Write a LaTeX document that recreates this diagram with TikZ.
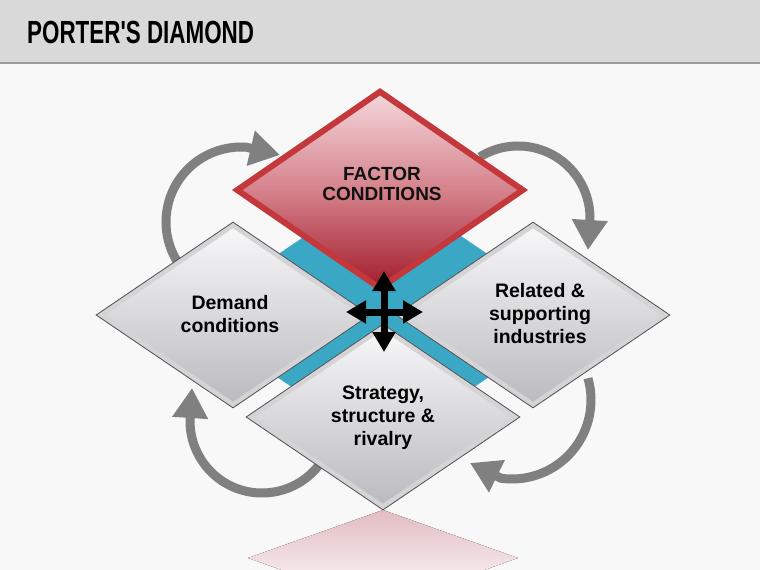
\documentclass[tikz,border=0pt]{standalone}
\usepackage{fontspec}
\setmainfont{Liberation Sans}
\usepackage{graphicx}
\usetikzlibrary{shapes.geometric,arrows.meta,calc}
\definecolor{bg}{HTML}{F8F8F8}
\definecolor{titlebar}{HTML}{D9D9D9}
\definecolor{titleline}{HTML}{9C9C9C}
\definecolor{bandblue}{HTML}{3AA8C5}
\definecolor{redborder}{HTML}{C4373B}
\definecolor{redtop}{HTML}{F4D8DC}
\definecolor{redmid}{HTML}{D5828C}
\definecolor{redbot}{HTML}{A21C2C}
\definecolor{graytop}{HTML}{F9F9FA}
\definecolor{graybot}{HTML}{B9B9BE}
\definecolor{grayband}{HTML}{D4D4D6}
\definecolor{grayline}{HTML}{505050}
\definecolor{cycgray}{HTML}{808080}
\definecolor{refl}{HTML}{E2BCC0}
\definecolor{txt}{HTML}{111111}
\begin{document}
\begin{tikzpicture}[x=1pt,y=-1pt,
  reddia/.style={diamond, aspect=1.45, inner sep=0, minimum width=288, minimum height=199,
    draw=redborder, line width=6, top color=redtop, bottom color=redbot, middle color=redmid},
  graydia/.style={diamond, aspect=1.47, inner sep=0, minimum width=274, minimum height=186,
    draw=grayline, line width=0.8, top color=graytop, bottom color=graybot,
    path picture={\draw[grayband, line width=10] (path picture bounding box.north) -- (path picture bounding box.east) -- (path picture bounding box.south) -- (path picture bounding box.west) -- cycle;}},
  banddia/.style={diamond, inner sep=0, minimum width=392, minimum height=266, fill=bandblue},
  cycarrow/.style={draw=cycgray, line width=9, -{Triangle[width=34pt,length=30pt]}},
  xarrow/.style={draw=black, line width=7, {Triangle[width=22pt,length=20pt]}-{Triangle[width=22pt,length=20pt]}},
  graytext/.style={align=center, text=black, inner sep=0, font=\bfseries\fontsize{19.5}{23}\selectfont},
  redtext/.style={align=center, text=txt, inner sep=0, font=\bfseries\fontsize{19}{20.5}\selectfont}
]
\useasboundingbox (0,0) rectangle (760,570);
\begin{scope}
\clip (0,0) rectangle (760,570);
% background
\fill[bg] (0,0) rectangle (760,570);
\fill[titlebar] (0,0) rectangle (760,62);
\draw[titleline, line width=2] (0,63) -- (760,63);
\node[anchor=base west, inner sep=0, font=\bfseries\fontsize{32}{38}\selectfont] (title) at (27,43)
  {\scalebox{0.7}[1]{PORTER\textquotesingle S DIAMOND}};

% cycle arrows
\coordinate (c1) at (241,222);
\coordinate (t1) at (280,155);
\coordinate (c2) at (518,218);
\coordinate (t2) at (588,250);
\coordinate (c3) at (512,400);
\coordinate (t3) at (470,463);
\coordinate (c4) at (262,421);
\coordinate (t4) at (192,388);
\draw[cycarrow] ($(c1)+(148:75)$) arc[start angle=148, end angle=274, radius=75] -- (t1);
\draw[cycarrow] ($(c2)+(238:72)$) arc[start angle=238, end angle=359, radius=72] -- (t2);
\draw[cycarrow] ($(c3)+(-16:79)$) arc[start angle=-16, end angle=98, radius=79] -- (t3);
\draw[cycarrow] ($(c4)+(38:72)$) arc[start angle=38, end angle=181, radius=72] -- (t4);

% blue band behind
\node[banddia] (band) at (383,316) {};

% gray diamonds
\node[graydia] (demand) at (233,315) {};
\node[graydia] (related) at (533,315) {};
\node[graydia] (strategy) at (383,417) {};

% red diamond
\node[reddia] (factor) at (380,190) {};

% reflection
\fill[top color=refl, bottom color=white] (383,510) -- (518,558) -- (383,606) -- (248,558) -- cycle;

% center cross
\coordinate (xn) at (384,271);
\coordinate (xs) at (384,352);
\coordinate (xw) at (346,312);
\coordinate (xe) at (423,312);
\draw[xarrow] (xs) -- (xn);
\draw[xarrow] (xw) -- (xe);

% texts
\node[redtext] (tfactor) at (382,184) {FACTOR\\CONDITIONS};
\node[graytext] (tdemand) at (230,314) {Demand\\conditions};
\node[graytext] (trelated) at (540,314) {Related \&\\supporting\\industries};
\node[graytext] (tstrategy) at (383,418) {Strategy,\\structure \&\\rivalry};
\end{scope}
\end{tikzpicture}
\end{document}
